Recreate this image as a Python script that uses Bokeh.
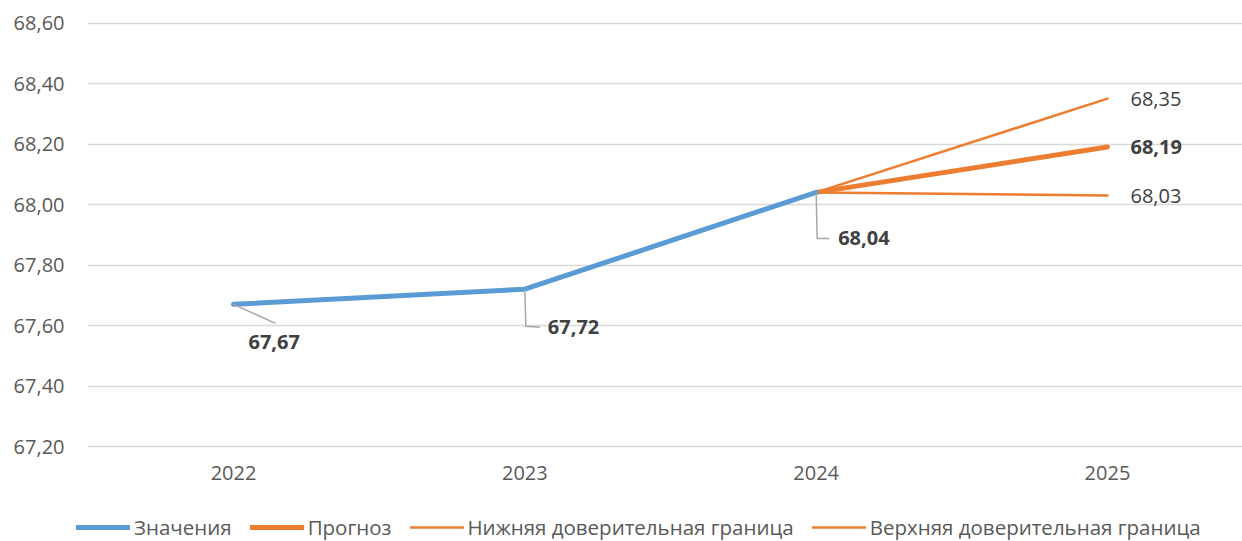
from bokeh.plotting import figure
from bokeh.layouts import column, row
from bokeh.models import FixedTicker, Legend, LegendItem, ColumnDataSource
from bokeh.core.properties import value
from bokeh.embed import file_html
from bokeh.resources import INLINE

# ---- data ----
years = ["2022", "2023", "2024", "2025"]
actual_x = [0, 1, 2]
actual = [67.67, 67.72, 68.04]
fc_x = [2, 3]
forecast = [68.04, 68.19]
lower = [68.04, 68.03]
upper = [68.04, 68.35]
y_ticks = [67.2, 67.4, 67.6, 67.8, 68.0, 68.2, 68.4, 68.6]
series_names = ["Значения", "Прогноз", "Нижняя доверительная граница",
                "Верхняя доверительная граница"]

FONT = "Open Sans"
BLUE = "#5B9BD5"
ORANGE = "#ED7D31"
GREY_TXT = "#595959"
DARK_TXT = "#404040"

def fmt(v):
    return f"{v:.2f}".replace(".", ",")

W = 1242
H_MAIN, H_LEG = 505, 36
left, right, top = 87, 0, 20
frame_w = W - left - right
frame_h = 428
bottom = H_MAIN - top - frame_h
PX_PER_CAT = 291.33
PX_PER_UNIT = (frame_h - 4.5) / 1.4
x0 = -(233 - left) / PX_PER_CAT
x1 = x0 + frame_w / PX_PER_CAT
y0 = 67.2 - 2 / PX_PER_UNIT
y1 = 68.6 + 2.5 / PX_PER_UNIT
px_x = 1 / PX_PER_CAT
px_y = 1 / PX_PER_UNIT

p = figure(width=W, height=H_MAIN, x_range=(x0, x1), y_range=(y0, y1),
           output_backend="svg", toolbar_location=None,
           min_border_left=left, min_border_right=right,
           min_border_top=top, min_border_bottom=bottom)
p.outline_line_color = None
p.background_fill_color = "white"
p.border_fill_color = "white"

p.xgrid.grid_line_color = None
p.ygrid.grid_line_color = "#D9D9D9"
p.ygrid.grid_line_width = 1.3

p.yaxis.ticker = FixedTicker(ticks=y_ticks)
p.yaxis.major_label_overrides = {t: fmt(t) for t in y_ticks}
p.xaxis.ticker = FixedTicker(ticks=list(range(len(years))))
p.xaxis.major_label_overrides = {i: y for i, y in enumerate(years)}
for ax in (p.xaxis[0], p.yaxis[0]):
    ax.axis_line_color = None
    ax.major_tick_line_color = None
    ax.minor_tick_line_color = None
    ax.major_tick_in = 0
    ax.major_tick_out = 0
    ax.major_label_text_font = FONT
    ax.major_label_text_font_size = "20px"
    ax.major_label_text_color = GREY_TXT
p.yaxis.major_label_standoff = 23
p.xaxis.major_label_standoff = 17

# ---- lines ----
p.line(fc_x, upper, line_color=ORANGE, line_width=2.5, line_cap="round")
p.line(fc_x, lower, line_color=ORANGE, line_width=2.5, line_cap="round")
p.line(fc_x, forecast, line_color=ORANGE, line_width=5, line_cap="round")
p.line(actual_x, actual, line_color=BLUE, line_width=5, line_cap="round")

# ---- leader lines (pixel offsets converted to data units) ----
lead_pts = [
    [(0, 0), (42, 19)],
    [(0, 0), (1, 37), (15, 38)],
    [(0, 0), (1, 46), (13, 46)],
]
xs, ys = [], []
for (xi, yi), pts in zip(zip(actual_x, actual), lead_pts):
    xs.append([xi + dx * px_x for dx, dy in pts])
    ys.append([yi - dy * px_y for dx, dy in pts])
p.multi_line(xs, ys, line_color="#A6A6A6", line_width=1.5)

# ---- data labels ----
act_src = ColumnDataSource(dict(x=actual_x, y=actual, t=[fmt(v) for v in actual],
                                xo=[15, 23, 22], yo=[38, 38, 46]))
p.text("x", "y", text="t", x_offset="xo", y_offset="yo", source=act_src,
       text_font=value(FONT), text_font_size="20px", text_font_style="bold",
       text_color=DARK_TXT, text_align="left", text_baseline="middle")

fc_src = ColumnDataSource(dict(x=[fc_x[-1]], y=[forecast[-1]], t=[fmt(forecast[-1])]))
p.text("x", "y", text="t", x_offset=23, y_offset=0, source=fc_src,
       text_font=value(FONT), text_font_size="20px", text_font_style="bold",
       text_color=DARK_TXT, text_align="left", text_baseline="middle")

b_src = ColumnDataSource(dict(x=[fc_x[-1], fc_x[-1]], y=[upper[-1], lower[-1]],
                              t=[fmt(upper[-1]), fmt(lower[-1])], yo=[0, 1]))
p.text("x", "y", text="t", x_offset=23, y_offset="yo", source=b_src,
       text_font=value(FONT), text_font_size="20px",
       text_color=DARK_TXT, text_align="left", text_baseline="middle")

# ---- legend strip (separate figure; its lines lie outside its visible range) ----
lf = figure(width=W, height=H_LEG, x_range=(100, 101), y_range=(0, 1),
            output_backend="svg", toolbar_location=None,
            x_axis_type=None, y_axis_type=None,
            min_border_left=0, min_border_right=0, min_border_top=0, min_border_bottom=0)
lf.outline_line_color = None
lf.xgrid.grid_line_color = None
lf.ygrid.grid_line_color = None
l_act = lf.line(actual_x, actual, line_color=BLUE, line_width=5, line_cap="round")
l_fc = lf.line(fc_x, forecast, line_color=ORANGE, line_width=5, line_cap="round")
l_lo = lf.line(fc_x, lower, line_color=ORANGE, line_width=2.5, line_cap="round")
l_up = lf.line(fc_x, upper, line_color=ORANGE, line_width=2.5, line_cap="round")

legend = Legend(items=[
    LegendItem(label=series_names[0], renderers=[l_act]),
    LegendItem(label=series_names[1], renderers=[l_fc]),
    LegendItem(label=series_names[2], renderers=[l_lo]),
    LegendItem(label=series_names[3], renderers=[l_up]),
], orientation="horizontal", location=(76, 0))
legend.border_line_color = None
legend.background_fill_alpha = 0
legend.padding = 0
legend.margin = 0
legend.spacing = 18
legend.glyph_width = 54
legend.glyph_height = 20
legend.label_standoff = 4
legend.label_text_font = FONT
legend.label_text_font_size = "20.5px"
legend.label_text_color = GREY_TXT
legend.label_height = 20
lf.add_layout(legend, "center")

layout = column(p, row(lf, spacing=0), spacing=0)
open("out.html", "w").write(file_html(layout, INLINE))
